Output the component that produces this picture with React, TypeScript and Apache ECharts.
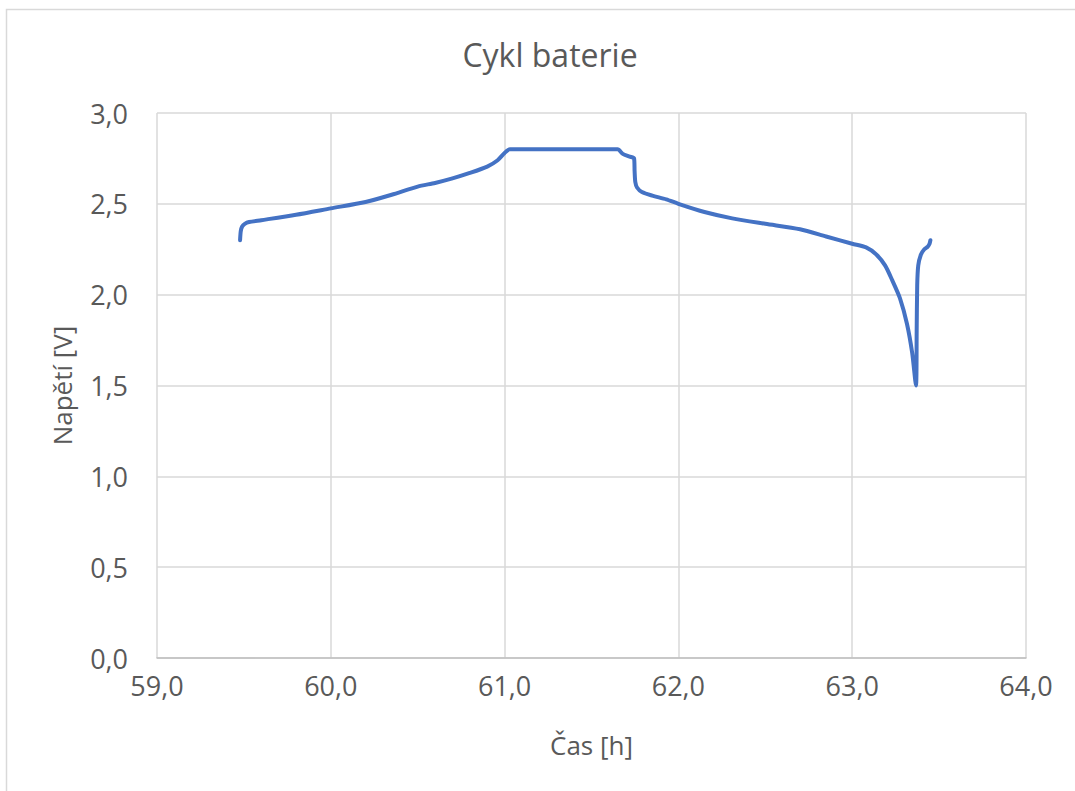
import React, { useEffect, useRef } from "react";
import * as echarts from "echarts";

const titleText = "Cykl baterie";
const xAxisName = "Čas [h]";
const yAxisName = "Napětí [V]";

const timeH: number[] = [
  59.478, 59.482, 59.49, 59.505, 59.53, 59.6, 59.8, 60.0, 60.2, 60.35, 60.5, 60.6, 60.7, 60.8, 60.9,
  60.96, 61.0, 61.03, 61.65, 61.68, 61.72, 61.745, 61.748, 61.752, 61.762, 61.79, 61.85, 61.93,
  62.0, 62.15, 62.31, 62.5, 62.7, 62.85, 63.0, 63.08, 63.14, 63.19, 63.23, 63.275, 63.315,
  63.345, 63.367, 63.371, 63.374, 63.38, 63.395, 63.415, 63.435, 63.445, 63.45,
];
const voltageV: number[] = [
  2.3, 2.35, 2.375, 2.39, 2.4, 2.41, 2.44, 2.475, 2.51, 2.55, 2.595, 2.615, 2.64, 2.67, 2.705,
  2.74, 2.78, 2.8, 2.8, 2.775, 2.76, 2.75, 2.68, 2.62, 2.59, 2.565, 2.545, 2.525,
  2.5, 2.455, 2.42, 2.39, 2.36, 2.32, 2.28, 2.26, 2.22, 2.16, 2.08, 1.98, 1.84,
  1.68, 1.5, 1.8, 2.05, 2.16, 2.22, 2.25, 2.265, 2.28, 2.3,
];

const fmt = (v: number) => v.toFixed(1).replace(".", ",");

export default function App() {
  const ref = useRef<HTMLDivElement>(null);
  useEffect(() => {
    if (!ref.current) return;
    const chart = echarts.init(ref.current, undefined, { renderer: "svg" });
    const font = "'Open Sans', 'Liberation Sans', sans-serif";
    const txt = "#595959";
    chart.setOption({
      animation: false,
      backgroundColor: "#ffffff",
      textStyle: { fontFamily: font },
      title: {
        text: titleText,
        left: 545,
        textAlign: "center",
        top: 33,
        textStyle: { fontFamily: font, fontSize: 32, fontWeight: "normal", color: txt },
      },
      graphic: [
        {
          type: "rect",
          shape: { x: 6.5, y: 9.5, width: 1100, height: 820 },
          style: { fill: "none", stroke: "#d9d9d9", lineWidth: 1.5 },
          silent: true,
        },
      ],
      grid: { left: 157, right: 49, top: 113, bottom: 133, containLabel: false },
      xAxis: {
        type: "value",
        min: 59,
        max: 64,
        interval: 1,
        name: xAxisName,
        nameLocation: "middle",
        nameGap: 74,
        nameTextStyle: { fontFamily: font, fontSize: 26, color: txt },
        axisLine: { show: true, lineStyle: { color: "#bfbfbf", width: 1.5 } },
        axisTick: { show: false },
        axisLabel: { formatter: fmt, fontFamily: font, fontSize: 27, color: txt, margin: 14 },
        splitLine: { show: true, lineStyle: { color: "#d9d9d9", width: 1.5 } },
      },
      yAxis: {
        type: "value",
        min: 0,
        max: 3,
        interval: 0.5,
        name: yAxisName,
        nameLocation: "middle",
        nameGap: 82,
        nameTextStyle: { fontFamily: font, fontSize: 26, color: txt },
        axisLine: { show: false },
        axisTick: { show: false },
        axisLabel: { formatter: fmt, fontFamily: font, fontSize: 27, color: txt, margin: 29 },
        splitLine: { show: true, lineStyle: { color: "#d9d9d9", width: 1.5 } },
      },
      series: [
        {
          type: "line",
          data: timeH.map((t, i) => [t, voltageV[i]]),
          showSymbol: false,
          smooth: 0.25,
          lineStyle: { color: "#4472c4", width: 4, cap: "round", join: "round" },
          itemStyle: { color: "#4472c4" },
        },
      ],
    });
    return () => chart.dispose();
  }, []);
  return (
    <div
      ref={ref}
      style={{ position: "fixed", left: 0, top: 0, width: 1075, height: 791 }}
    />
  );
}
